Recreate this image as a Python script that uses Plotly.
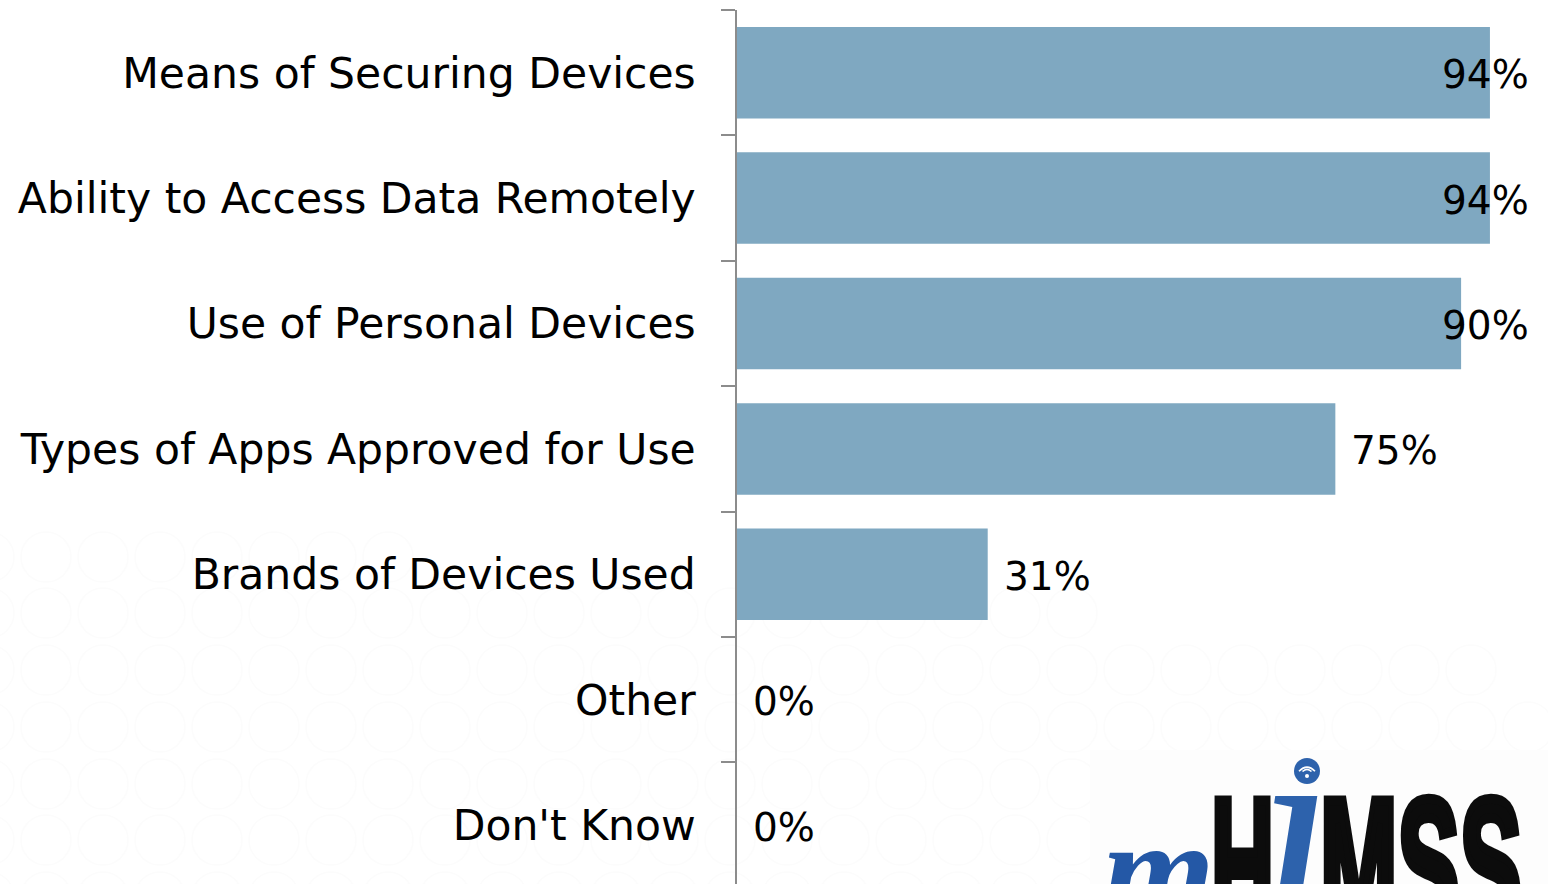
import plotly.graph_objects as go

categories = ["Means of Securing Devices", "Ability to Access Data Remotely", "Use of Personal Devices",
              "Types of Apps Approved for Use", "Brands of Devices Used", "Other", "Don't Know"]
values = [94, 94, 90.4, 74.7, 31.3, 0, 0]
labels = ["94%", "94%", "90%", "75%", "31%", "0%", "0%"]

W, H = 1548, 884
L, T = 737, 10        # plot area corner in page pixels
BAR = "#7FA8C1"
GREY = "#8C8C8C"
FONT = "DejaVu Sans, Verdana, sans-serif"
label_cap = 86.0      # labels that would leave the frame are pulled back


def px(x):
    return (x - L) / (W - L)


def py(y):
    return (H - y) / (H - T)


fig = go.Figure(go.Bar(y=categories, x=values, orientation="h", marker=dict(color=BAR, line_width=0),
                       width=0.73, hoverinfo="skip"))

annotations = [dict(x=min(v, label_cap), y=c, xref="x", yref="y", text=t, showarrow=False, xanchor="left",
                    xshift=14, yshift=-2, font=dict(family=FONT, size=39, color="#000"))
               for c, v, t in zip(categories, values, labels)]

# faint page decoration: rows of circles, each row reaching a given distance
shapes = []
row_y = [557, 613, 670, 727, 784, 840, 897]
row_end = [420, 1100, 1520, 1560, 1075, 1075, 1075]
for cy, end in zip(row_y, row_end):
    cx = -11
    while cx < end:
        shapes.append(dict(type="circle", xref="paper", yref="paper", layer="below",
                           x0=px(cx - 25), x1=px(cx + 25), y0=py(cy + 25), y1=py(cy - 25),
                           line=dict(color="#FCFCFC", width=1.5)))
        cx += 57
shapes.append(dict(type="rect", xref="paper", yref="paper", layer="below", x0=px(1090), x1=px(1548),
                   y0=py(884), y1=py(750), fillcolor="#FDFDFD", line_width=0))

# wifi badge of the logo
shapes.append(dict(type="circle", xref="paper", yref="paper", x0=px(1294), x1=px(1320), y0=py(784), y1=py(758),
                   fillcolor="#2D62AC", line_width=0))
for r in (8, 4.5):
    shapes.append(dict(type="path", xref="paper", yref="paper",
                       path=f"M {px(1307 - r)} {py(772 - r * 0.1)} Q {px(1307)} {py(772 - r * 1.1)} {px(1307 + r)} {py(772 - r * 0.1)}",
                       line=dict(color="#FFFFFF", width=1.6)))
shapes.append(dict(type="circle", xref="paper", yref="paper", x0=px(1305), x1=px(1309), y0=py(778), y1=py(774),
                   fillcolor="#FFFFFF", line_width=0))

logo_text = ["m", "\u0131", "H", "MSS"]
logo_x = [1158, 1295, 1242, 1421]
logo_top = [788, 656, 757, 757]
logo_size = [145, 320, 190, 190]
logo_color = ["#2458A6", "#2D62AC", "#0C0C0C", "#0C0C0C"]
logo_family = ["Liberation Serif", "Liberation Serif", "Liberation Sans", "Liberation Sans"]
logo_markup = ["<b><i>{}</i></b>", "<i>{}</i>", "<b>{}</b>", "<b>{}</b>"]
logo_squeeze = [1.0, 0.9, 0.46, 0.49]
logo_stroke = [0, 0, 10, 10]
for t, x, y, s, c, f, m in zip(logo_text, logo_x, logo_top, logo_size, logo_color, logo_family, logo_markup):
    annotations.append(dict(x=px(x), y=py(y), xref="paper", yref="paper", showarrow=False, xanchor="center",
                            yanchor="top", text=m.format(t), font=dict(family=f, size=s, color=c)))

unit = 125.4
bottom = (H - T) / unit - 0.5
x_max = (W - L) / 8.01

fig.update_layout(
    width=W, height=H, autosize=False, showlegend=False,
    margin=dict(l=L, r=0, t=T, b=0, pad=0), paper_bgcolor="#FFFFFF", plot_bgcolor="rgba(0,0,0,0)",
    shapes=shapes, annotations=annotations,
    xaxis=dict(range=[0, x_max], visible=False, fixedrange=True),
    yaxis=dict(type="category", categoryorder="array", categoryarray=categories, range=[bottom, -0.5],
               tickson="boundaries", ticks="outside", ticklen=14, tickwidth=1.5, tickcolor=GREY,
               showline=True, linecolor=GREY, linewidth=1.5, showgrid=False, zeroline=False,
               ticklabelstandoff=31, tickfont=dict(family=FONT, size=42.5, color="#000"), fixedrange=True),
)

squeeze = ",".join(f'["{t}",[{s},{k}]]' for t, s, k in zip(logo_text, logo_squeeze, logo_stroke))
post = """
document.documentElement.style.overflow='hidden';
document.body.style.margin='0';
document.body.style.overflow='hidden';
var sq=new Map([%s]);
document.querySelectorAll('.annotation-text').forEach(function(e){
  var k=sq.get(e.textContent);
  if(!k)return;
  e.style.transformBox='fill-box';e.style.transformOrigin='center';e.style.transform='scaleX('+k[0]+')';
  if(k[1]){e.style.stroke='#0C0C0C';e.style.strokeWidth=k[1]+'px';e.style.strokeLinejoin='miter';}
});
""" % squeeze
fig.write_html("out.html", config=dict(displayModeBar=False), post_script=post)
